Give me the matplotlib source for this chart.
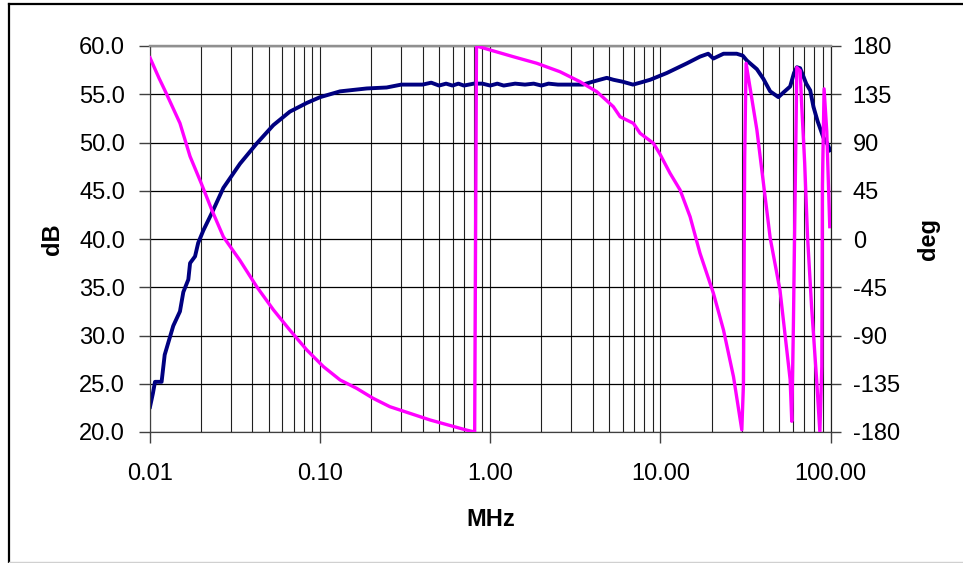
import matplotlib
matplotlib.use("Agg")
import matplotlib.pyplot as plt
from matplotlib.ticker import FixedLocator, FuncFormatter, LogLocator, NullFormatter
from matplotlib.lines import Line2D

plt.rcParams['font.family'] = ['Liberation Sans', 'DejaVu Sans']

# Magnitude (dB) vs frequency (MHz)
mag_freq = [0.0100, 0.0104, 0.0107, 0.0117, 0.0122, 0.0137, 0.0150, 0.0157, 0.0168, 0.0172,
            0.0184, 0.0192, 0.0206, 0.0231, 0.0270, 0.0338, 0.0424, 0.0531, 0.0664, 0.0835,
            0.100, 0.131, 0.188, 0.246, 0.30, 0.40, 0.45, 0.50, 0.55, 0.60,
            0.65, 0.70, 0.80, 0.90, 1.0, 1.1, 1.2, 1.4, 1.6, 1.8,
            2.0, 2.2, 2.5, 3.0, 3.5, 4.0, 4.4, 4.84, 5.3, 6.0,
            6.9, 7.6, 8.7, 10.9, 14.3, 17.1, 19.1, 20.5, 23.5, 28.1,
            30.5, 32.2, 36.9, 40.3, 44.2, 49.4, 53.0, 57.9, 61.0, 63.4,
            66.3, 72.0, 76.0, 79.4, 84.0, 90.9, 95.0, 99.5]
mag_db = [22.6, 24.0, 25.2, 25.2, 28.0, 31.0, 32.5, 34.5, 35.8, 37.5,
          38.2, 39.6, 40.9, 42.7, 45.3, 47.8, 49.9, 51.8, 53.2, 54.1,
          54.7, 55.3, 55.6, 55.7, 56.0, 56.0, 56.2, 55.9, 56.1, 55.9,
          56.1, 55.9, 56.1, 56.1, 55.9, 56.1, 55.9, 56.1, 56.0, 56.1,
          55.9, 56.1, 56.0, 56.0, 56.0, 56.3, 56.5, 56.7, 56.5, 56.3,
          56.0, 56.2, 56.5, 57.2, 58.2, 58.9, 59.2, 58.7, 59.2, 59.2,
          59.0, 58.5, 57.6, 56.6, 55.3, 54.7, 55.2, 55.8, 57.2, 57.8,
          57.7, 56.1, 55.4, 53.7, 52.2, 50.5, 50.0, 49.2]

# Phase (deg) vs frequency (MHz)
ph_freq = [0.0100, 0.0113, 0.0122, 0.0150, 0.0172, 0.0200, 0.0231, 0.0270, 0.0338, 0.0424,
           0.0531, 0.0664, 0.0835, 0.1045, 0.1311, 0.164, 0.205, 0.257, 0.443, 0.729,
           0.81, 0.83, 0.997, 1.367, 1.877, 2.57, 3.37, 4.23, 5.29, 5.80,
           6.94, 7.60, 9.10, 9.96, 11.4, 13.06, 14.95, 17.1, 20.5, 23.5,
           26.9, 30.1, 30.8, 31.3, 31.9, 36.9, 44.2, 50.5, 57.9, 59.2,
           60.5, 63.4, 66.3, 67.8, 70.5, 73.3, 77.4, 82.9, 86.6, 88.9,
           89.6, 91.7, 95.1, 99.0]
ph_deg = [169, 150, 139, 108, 77, 52, 27, 2, -20, -44.5,
          -66, -85, -103.5, -119, -131.5, -139.3, -148.6, -156.4, -168.8, -178.3,
          -180, 180, 176.3, 170, 163.9, 156, 146.7, 137.4, 123.4, 114,
          107.9, 98.6, 89.3, 79, 61.3, 45.7, 20.8, -13.3, -50.6, -84.9,
          -128.4, -178, -135, 75, 163.9, 102, 1, -48, -131, -170,
          -82, 160, 157, 123, 71, 2, -63, -131.5, -180, -119,
          50, 140, 100, 11.5]

left_ticks = [20, 25, 30, 35, 40, 45, 50, 55, 60]
right_ticks = [-180, -135, -90, -45, 0, 45, 90, 135, 180]
x_ticks = [0.01, 0.1, 1, 10, 100]

W, H = 963, 563
fig = plt.figure(figsize=(W / 100, H / 100), dpi=100)
ax = fig.add_axes([150 / W, 1 - 432 / H, (830.5 - 150) / W, (432 - 46) / H])
ax2 = ax.twinx()

FS = 17

ax.plot(mag_freq, mag_db, color='#000080', lw=2.8, solid_joinstyle='round', zorder=3)
ax2.plot(ph_freq, ph_deg, color='#FF00FF', lw=2.4, solid_joinstyle='round', zorder=3)

ax.set_xscale('log')
ax.set_xlim(0.01, 100)
ax.set_ylim(20, 60)
ax2.set_ylim(-180, 180)

ax.xaxis.set_major_locator(FixedLocator(x_ticks))
ax.xaxis.set_major_formatter(FuncFormatter(lambda v, p: f"{v:.2f}"))
ax.xaxis.set_minor_locator(LogLocator(base=10, subs=range(2, 10)))
ax.xaxis.set_minor_formatter(NullFormatter())
ax.yaxis.set_major_locator(FixedLocator(left_ticks))
ax.yaxis.set_major_formatter(FuncFormatter(lambda v, p: f"{v:.1f}"))
ax2.yaxis.set_major_locator(FixedLocator(right_ticks))
ax2.yaxis.set_major_formatter(FuncFormatter(lambda v, p: f"{v:.0f}"))

ax.grid(True, which='major', axis='y', color='black', lw=0.9)
ax.grid(True, which='both', axis='x', color='#202020', lw=0.8)
ax.set_axisbelow(True)

ax.tick_params(axis='x', which='major', direction='out', length=8, width=1, pad=14, labelsize=FS, color='#404040')
ax.tick_params(axis='x', which='minor', length=0)
ax.tick_params(axis='y', direction='out', length=8, width=1, pad=10, labelsize=FS, color='#404040')
ax2.tick_params(axis='y', direction='out', length=7, width=1, pad=9, labelsize=FS, color='#404040')

for a in (ax, ax2):
    a.spines['top'].set_color('#909090')
    a.spines['top'].set_linewidth(1.6)
    a.spines['left'].set_color('#404040')
    a.spines['right'].set_color('#202020')
    a.spines['bottom'].set_color('#404040')
    a.patch.set_visible(False)

ax.set_xlabel('MHz', fontsize=FS, fontweight='bold', labelpad=17)
fig.text(52 / W, 1 - 239 / H, 'dB', rotation=90, fontsize=FS, fontweight='bold', ha='center', va='center')
fig.text(928 / W, 1 - 239 / H, 'deg', rotation=90, fontsize=FS, fontweight='bold', ha='center', va='center')

# outer chart frame
fig.add_artist(Line2D([8.5 / W, 8.5 / W], [0, 1 - 4 / H], transform=fig.transFigure, color='black', lw=1.6))
fig.add_artist(Line2D([8.5 / W, 1], [1 - 4 / H, 1 - 4 / H], transform=fig.transFigure, color='black', lw=1.6))
fig.add_artist(Line2D([8.5 / W, 1], [1.5 / H, 1.5 / H], transform=fig.transFigure, color='#d0d0d0', lw=1.0))

fig.savefig('out.png', dpi=100)
